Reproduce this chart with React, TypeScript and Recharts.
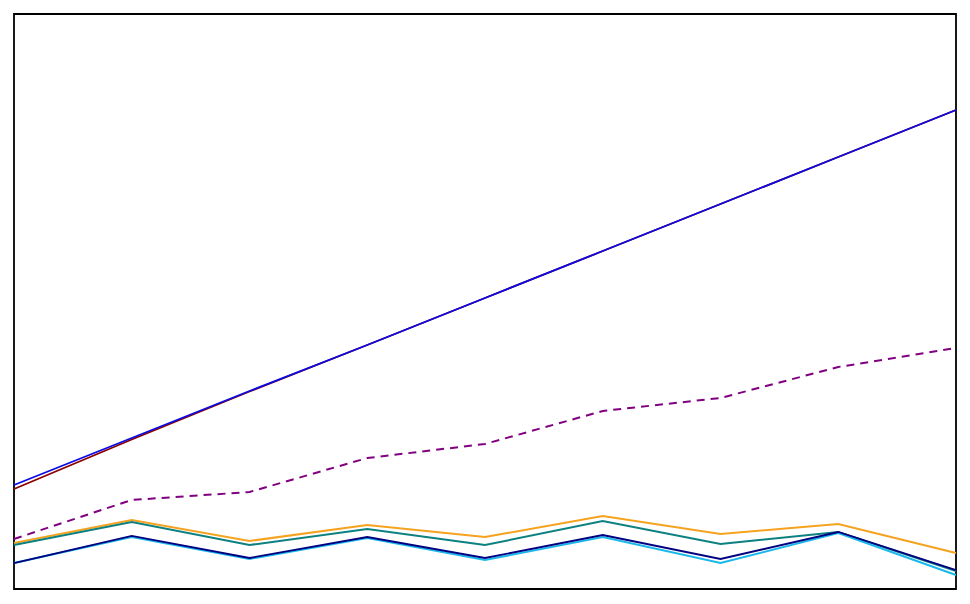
import React from 'react';
import { LineChart, Line, XAxis, YAxis, ReferenceArea } from 'recharts';

const categories = ['1', '2', '3', '4', '5', '6', '7', '8', '9'];
const blueSeries = [18.09, 26.26, 34.43, 42.43, 50.61, 58.78, 66.96, 75.13, 83.3];
const redSeries = [17.39, 26.0, 34.35, 42.43, 50.61, 58.78, 66.96, 75.13, 83.3];
const purpleSeries = [8.7, 15.48, 16.87, 22.78, 25.22, 30.96, 33.22, 38.61, 41.91];
const orangeSeries = [8.0, 12.0, 8.35, 11.13, 9.04, 12.7, 9.57, 11.3, 6.26];
const tealSeries = [7.65, 11.65, 7.65, 10.43, 7.65, 11.83, 7.83, 9.91, 3.13];
const navySeries = [4.52, 9.22, 5.39, 9.04, 5.39, 9.39, 5.22, 9.91, 3.3];
const cyanSeries = [4.52, 9.04, 5.22, 8.87, 5.04, 9.04, 4.52, 9.74, 2.43];

const data = categories.map((c, i) => ({
  cat: c,
  blue: blueSeries[i],
  red: redSeries[i],
  purple: purpleSeries[i],
  orange: orangeSeries[i],
  teal: tealSeries[i],
  navy: navySeries[i],
  cyan: cyanSeries[i],
}));

export default function App() {
  return (
    <div style={{ position: 'absolute', left: 0, top: 0, background: '#fff' }}>
      <LineChart width={970} height={604} data={data} margin={{ top: 14, right: 14, bottom: 15, left: 14 }}>
        <XAxis dataKey="cat" hide />
        <YAxis domain={[0, 100]} hide />
        <ReferenceArea x1="1" x2="9" y1={0} y2={100} fill="none" stroke="#000" strokeWidth={1.8} ifOverflow="visible" />
        <Line dataKey="red" stroke="#8b0000" strokeWidth={1.8} dot={false} isAnimationActive={false} />
        <Line dataKey="blue" stroke="#0a0ae6" strokeWidth={1.8} dot={false} isAnimationActive={false} />
        <Line dataKey="purple" stroke="#800080" strokeWidth={2} strokeDasharray="8 6" dot={false} isAnimationActive={false} />
        <Line dataKey="orange" stroke="#f5a21e" strokeWidth={2} dot={false} isAnimationActive={false} />
        <Line dataKey="teal" stroke="#0d8080" strokeWidth={2} dot={false} isAnimationActive={false} />
        <Line dataKey="cyan" stroke="#1ab8ea" strokeWidth={2} dot={false} isAnimationActive={false} />
        <Line dataKey="navy" stroke="#000080" strokeWidth={1.8} dot={false} isAnimationActive={false} />
      </LineChart>
    </div>
  );
}
